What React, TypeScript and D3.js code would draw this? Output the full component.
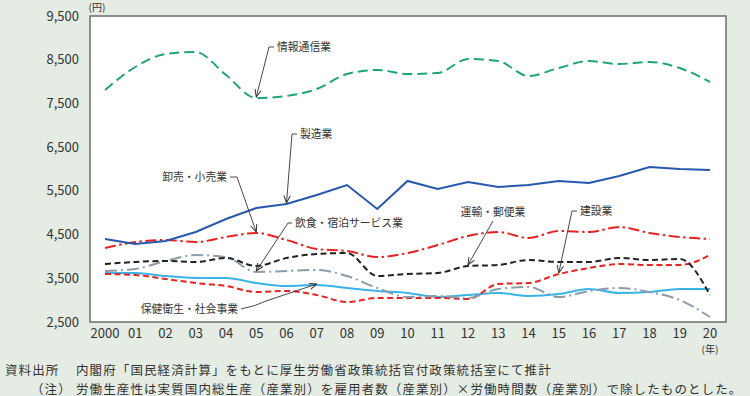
import * as d3 from 'd3';
import React, { useRef, useEffect } from 'react';

// --------------------------------------------------------
// data - labour productivity by industry (yen)
// --------------------------------------------------------
const years = d3.range(2000, 2021);
const yearLabels = ['2000', '01', '02', '03', '04', '05', '06', '07', '08', '09', '10',
  '11', '12', '13', '14', '15', '16', '17', '18', '19', '20'];
const yTicks = [2500, 3500, 4500, 5500, 6500, 7500, 8500, 9500];

const info         = [7807, 8333, 8631, 8676, 8150, 7624, 7670, 7830, 8173, 8265, 8173, 8196, 8516, 8470, 8127, 8310, 8470, 8402, 8447, 8310, 7990];
const manuf        = [4399, 4284, 4353, 4559, 4856, 5108, 5199, 5405, 5634, 5085, 5726, 5542, 5703, 5588, 5634, 5726, 5680, 5840, 6046, 6000, 5977];
const wholesale    = [4193, 4330, 4376, 4330, 4445, 4536, 4376, 4170, 4124, 3987, 4078, 4261, 4467, 4559, 4422, 4582, 4559, 4673, 4536, 4445, 4399];
const transport    = [3827, 3873, 3895, 3873, 3964, 3781, 3964, 4055, 4078, 3552, 3598, 3621, 3781, 3804, 3918, 3873, 3873, 3964, 3918, 3941, 3118];
const food         = [3667, 3713, 3895, 4032, 3987, 3644, 3667, 3690, 3552, 3278, 3072, 3095, 3050, 3255, 3300, 3072, 3209, 3278, 3186, 3003, 2614];
const construction = [3598, 3575, 3484, 3392, 3324, 3186, 3209, 3118, 2957, 3049, 3049, 3049, 3026, 3370, 3392, 3598, 3735, 3827, 3804, 3804, 4032];
const health       = [3621, 3621, 3552, 3507, 3507, 3392, 3324, 3346, 3278, 3209, 3163, 3072, 3118, 3163, 3095, 3140, 3255, 3163, 3186, 3255, 3255];

const series = [
  { name: '保健衛生・社会事業', values: health, color: '#3ab4e6', dash: null, curve: d3.curveMonotoneX },
  { name: '建設業', values: construction, color: '#e8231f', dash: '6,3.5', curve: d3.curveMonotoneX },
  { name: '飲食・宿泊サービス業', values: food, color: '#8c9cab', dash: '12,4,2,4', curve: d3.curveMonotoneX },
  { name: '運輸・郵便業', values: transport, color: '#222222', dash: '6,3.5', curve: d3.curveMonotoneX },
  { name: '卸売・小売業', values: wholesale, color: '#e8231f', dash: '11,3.5,2.5,3.5', curve: d3.curveMonotoneX },
  { name: '製造業', values: manuf, color: '#2858ae', dash: null, curve: d3.curveLinear },
  { name: '情報通信業', values: info, color: '#1fa574', dash: '10,5', curve: d3.curveMonotoneX },
];

const FONT = '"Noto Sans CJK JP", "Noto Sans", sans-serif';

function App() {
  const svgRef = useRef();

  useEffect(() => {
    const W = 750, H = 396;
    const plot = { left: 90, top: 16, right: 726, bottom: 322 };

    const x = d3.scaleLinear([2000, 2020], [105, 710]);
    const y = d3.scaleLinear([2500, 9500], [plot.bottom, plot.top]);

    const svg = d3.select(svgRef.current)
      .attr('width', W)
      .attr('height', H)
      .style('font-family', FONT);
    svg.selectAll('*').remove();

    // background + plot frame
    svg.append('rect').attr('width', W).attr('height', H).attr('fill', '#e5ece4');
    svg.append('rect')
      .attr('x', plot.left).attr('y', plot.top)
      .attr('width', plot.right - plot.left).attr('height', plot.bottom - plot.top)
      .attr('fill', '#ffffff')
      .attr('stroke', '#6e6e6e')
      .attr('stroke-width', 1.5);

    // arrow marker for the leader lines
    svg.append('defs').append('marker')
      .attr('id', 'arr')
      .attr('viewBox', '0 0 8 8')
      .attr('refX', 7.5).attr('refY', 4)
      .attr('markerWidth', 8).attr('markerHeight', 8)
      .attr('markerUnits', 'userSpaceOnUse')
      .attr('orient', 'auto')
      .append('path')
      .attr('d', 'M0,0.8 L7.5,4 L0,7.2')
      .attr('fill', 'none')
      .attr('stroke', '#333')
      .attr('stroke-width', 1);

    // y tick labels
    svg.append('g').selectAll('text')
      .data(yTicks)
      .join('text')
      .attr('x', 79)
      .attr('y', d => y(d))
      .attr('dy', '0.35em')
      .attr('text-anchor', 'end')
      .attr('font-size', 13)
      .attr('fill', '#333')
      .text(d => d3.format(',')(d));

    // x tick labels
    svg.append('g').selectAll('text')
      .data(years)
      .join('text')
      .attr('x', d => x(d))
      .attr('y', 338)
      .attr('text-anchor', 'middle')
      .attr('font-size', 13)
      .attr('fill', '#333')
      .text((d, i) => yearLabels[i]);

    svg.append('text').attr('x', 97).attr('y', 11).attr('text-anchor', 'middle')
      .attr('font-size', 10).attr('fill', '#333').text('(円)');
    svg.append('text').attr('x', 710).attr('y', 353).attr('text-anchor', 'middle')
      .attr('font-size', 10).attr('fill', '#333').text('(年)');

    // series lines
    for (const s of series) {
      const line = d3.line()
        .x((d, i) => x(years[i]))
        .y(d => y(d))
        .curve(s.curve);
      svg.append('path')
        .datum(s.values)
        .attr('d', line)
        .attr('fill', 'none')
        .attr('stroke', s.color)
        .attr('stroke-width', 2)
        .attr('stroke-dasharray', s.dash);
    }

    // --------------------------------------------------------
    // labels with leader lines - tip points come from the data
    // --------------------------------------------------------
    const tip = (vals, yr) => [x(yr), y(vals[yr - 2000]) - 1];
    const notes = [
      { text: '情報通信業', tx: 277, ty: 47, anchor: 'start', path: (t) => `M274,47H269L${t}`, at: tip(info, 2005) },
      { text: '製造業', tx: 300, ty: 134, anchor: 'start', path: (t) => `M297,134H292L${t}`, at: tip(manuf, 2006) },
      { text: '卸売・小売業', tx: 227, ty: 177, anchor: 'end', path: (t) => `M230,177H237L${t}`, at: tip(wholesale, 2005) },
      { text: '飲食・宿泊サービス業', tx: 295, ty: 223, anchor: 'start', path: (t) => `M292,223H288L${t}`, at: tip(food, 2005) },
      { text: '運輸・郵便業', tx: 493, ty: 212, anchor: 'middle', path: (t) => `M493,221L${t}`, at: tip(transport, 2012) },
      { text: '建設業', tx: 580, ty: 211, anchor: 'start', path: (t) => `M577,211H572L${t}`, at: tip(construction, 2015) },
      { text: '保健衛生・社会事業', tx: 238, ty: 309, anchor: 'end', path: (t) => `M241,309Q256,306 266,301L${t}`, at: tip(health, 2007) },
    ];

    const g = svg.append('g');
    for (const n of notes) {
      g.append('path')
        .attr('d', n.path(n.at.join(',')))
        .attr('fill', 'none')
        .attr('stroke', '#333')
        .attr('stroke-width', 0.9)
        .attr('marker-end', 'url(#arr)');
      g.append('text')
        .attr('x', n.tx).attr('y', n.ty)
        .attr('dy', '0.35em')
        .attr('text-anchor', n.anchor)
        .attr('font-size', 10.8)
        .attr('fill', '#333')
        .text(n.text);
    }

    // footnotes - slightly spaced so the long line reaches the right edge
    const foot = svg.append('g')
      .attr('font-size', 12.5)
      .attr('letter-spacing', 1.1)
      .attr('fill', '#333');
    foot.append('text').attr('x', 5).attr('y', 375).text('資料出所');
    foot.append('text').attr('x', 76).attr('y', 375)
      .text('内閣府「国民経済計算」をもとに厚生労働省政策統括官付政策統括室にて推計');
    foot.append('text').attr('x', 31).attr('y', 393.5).text('（注）');
    foot.append('text').attr('x', 76).attr('y', 393.5)
      .text('労働生産性は実質国内総生産（産業別）を雇用者数（産業別）×労働時間数（産業別）で除したものとした。');
  });

  return (
    <div style={{ position: 'absolute', left: 0, top: 0 }}>
      <svg ref={ svgRef } style={{ display: 'block' }} />
    </div>
  );
}

export default App;
